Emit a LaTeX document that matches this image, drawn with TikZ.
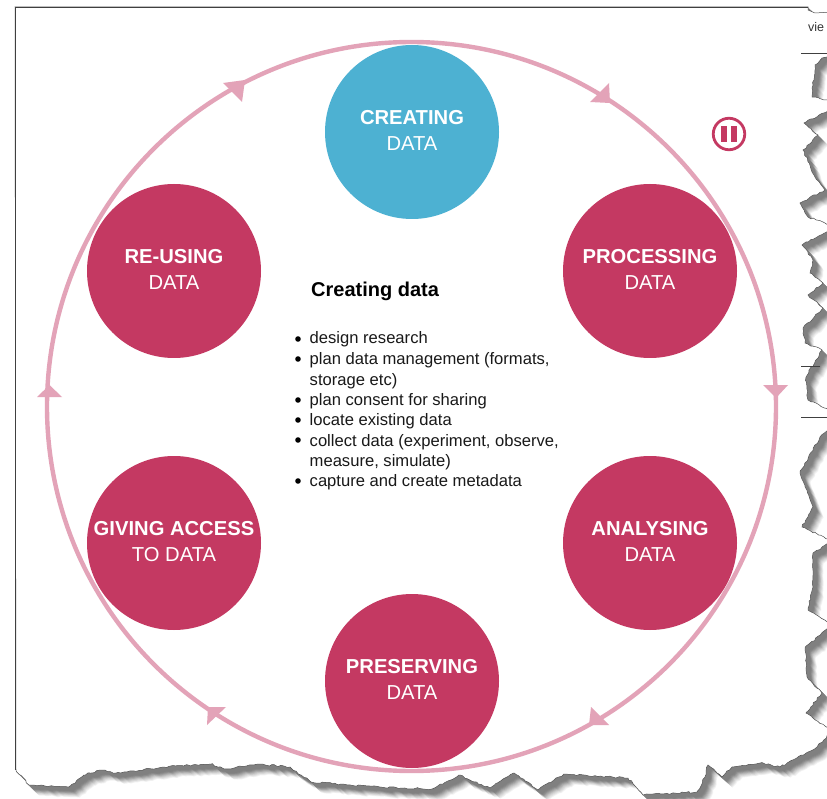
\documentclass[tikz,border=0pt]{standalone}
\usepackage{fontspec}
\setmainfont{Liberation Sans}
\usetikzlibrary{decorations.pathmorphing}
\definecolor{ringpink}{HTML}{E3A3B8}
\definecolor{crimson}{HTML}{C43962}
\definecolor{skyblue}{HTML}{4DB1D2}
\newcommand{\paperedge}{(15,7) -- (808,7) -- (808,10) -- (815,13) -- (832,12) -- (832,56) -- (822,58)
 decorate{ -- (815,65) -- (813,85) -- (812,97) -- (832,101) -- (832,108) -- (804,123) -- (818,135) -- (803,150) -- (815,177) -- (825,190) -- (800,203) -- (808,217) -- (823,222) -- (832,229) -- (802,245) -- (813,260) -- (810,273) -- (823,283) -- (808,295) -- (823,308) -- (803,328) -- (805,343) -- (822,350) -- (806,377) -- (808,400) -- (832,411) -- (832,425) -- (820,437) -- (800,473) -- (813,507) -- (802,527) -- (832,541) -- (813,553) -- (813,587) -- (808,610) -- (832,625) -- (805,648) -- (807,677) -- (822,693) -- (806,713) -- (832,731) -- (817,747) -- (780,767) -- (760,763) -- (732,767) -- (722,777) -- (708,765) -- (705,777) -- (697,792) -- (643,795) -- (628,778) -- (564,774) -- (538,790) -- (514,773) -- (490,788) -- (459,775) -- (432,789) -- (380,787) -- (311,782) -- (290,767) -- (258,764) -- (227,769) -- (211,764) -- (163,767) -- (116,773) -- (100,770) -- (84,775) -- (69,787) -- (29,785) -- (16,770)} -- cycle}
\tikzset{
  x=1pt,y=-1pt,
  jag/.style={decoration={random steps,segment length=3pt,amplitude=0.9pt}},
  ring/.style={draw=ringpink,line width=4.4pt},
  ringtip/.style={fill=ringpink},
  stage/.style={circle,minimum size=174pt,inner sep=0pt,fill=crimson,text=white,align=center,text depth=3pt,font=\fontsize{20.2}{25.6}\selectfont},
  active/.style={stage,fill=skyblue},
  heading/.style={anchor=base west,inner sep=0pt,font=\fontsize{20}{24}\selectfont\bfseries},
  item/.style={anchor=base west,inner sep=0pt,text=black!90,font=\fontsize{16.6}{20}\selectfont},
  rule/.style={draw=black!75,line width=0.8pt}
}
\begin{document}
\begin{tikzpicture}
\useasboundingbox (0,0) rectangle (827,799);
\fill[white] (0,0) rectangle (827,799);
\begin{scope}
\clip (0,0) rectangle (827,799);
% torn edge shadow
\foreach \k/\g in {15/5,14/10,13/15,12/20,11/26,10/32,9/38,8/44,7/48,6/50,5/50,4/50,3/50,2/50,1/50}{
  \pgfmathsetseed{41}
  \fill[black!\g,jag,xshift=\k*0.7pt,yshift=-\k*0.7pt] \paperedge;
}
\pgfmathsetseed{41}
\filldraw[fill=white,draw=black!70,line width=0.5pt,jag] \paperedge;
\end{scope}
\draw[rule] (15,7) -- (808,7);
\draw[rule] (15,7) -- (15,770);
\draw[rule] (801,53) -- (827,53);
\draw[rule] (801,366) -- (820,366);
\draw[rule] (801,417) -- (827,417);
\node[anchor=base west,inner sep=0pt,text=black!80,font=\fontsize{12.5}{14}\selectfont] (viewtext) at (808,32) {vie};

% cycle ring
\coordinate (hub) at (411.5,406.5);
\draw[ring] (hub) circle[radius=364.5];

% arrowheads along the ring, clockwise
\foreach \a/\b/\c in {
  {(590,102)}/{(609,83)}/{(610,103)},
  {(763,385)}/{(788,385)}/{(776,398)},
  {(591,707)}/{(609,725)}/{(589,725)},
  {(226,707)}/{(207,725)}/{(208,707)},
  {(37,397)}/{(62,397)}/{(49.5,385)},
  {(223,83)}/{(242,102)}/{(245,80)}}{
  \fill[ringtip] \a -- \b -- \c -- cycle;
}

% stages
\node[active] (creating) at (412,132) {\textbf{CREATING}\\DATA};
\node[stage] (processing) at (650,271) {\textbf{PROCESSING}\\DATA};
\node[stage] (analysing) at (650,543) {\textbf{ANALYSING}\\DATA};
\node[stage] (preserving) at (412,681) {\textbf{PRESERVING}\\DATA};
\node[stage] (giving) at (174,543) {\textbf{GIVING ACCESS}\\TO DATA};
\node[stage] (reusing) at (174,271) {\textbf{RE-USING}\\DATA};

% pause control
\node[circle,draw=crimson,line width=2.8pt,minimum size=31.5pt,inner sep=0pt] (pause) at (729,134) {};
\fill[crimson] (720.5,126) rectangle (727,142);
\fill[crimson] (730.5,126) rectangle (737,142);

% panel text
\node[heading] (title) at (311,296.5) {Creating data};
\foreach \n/\y/\t in {
  la/344/design research,
  lb/364/{plan data management (formats,},
  lc/385/storage etc),
  ld/405/plan consent for sharing,
  le/425/locate existing data,
  lf/446/{collect data (experiment, observe,},
  lg/466/{measure, simulate)},
  lh/486/capture and create metadata}{
  \node[item] (\n) at (309.5,\y) {\t};
}
\foreach \y in {339,359,400,420,440,481}{
  \fill[black] (298,\y) circle[radius=2.8];
}
\end{tikzpicture}
\end{document}
